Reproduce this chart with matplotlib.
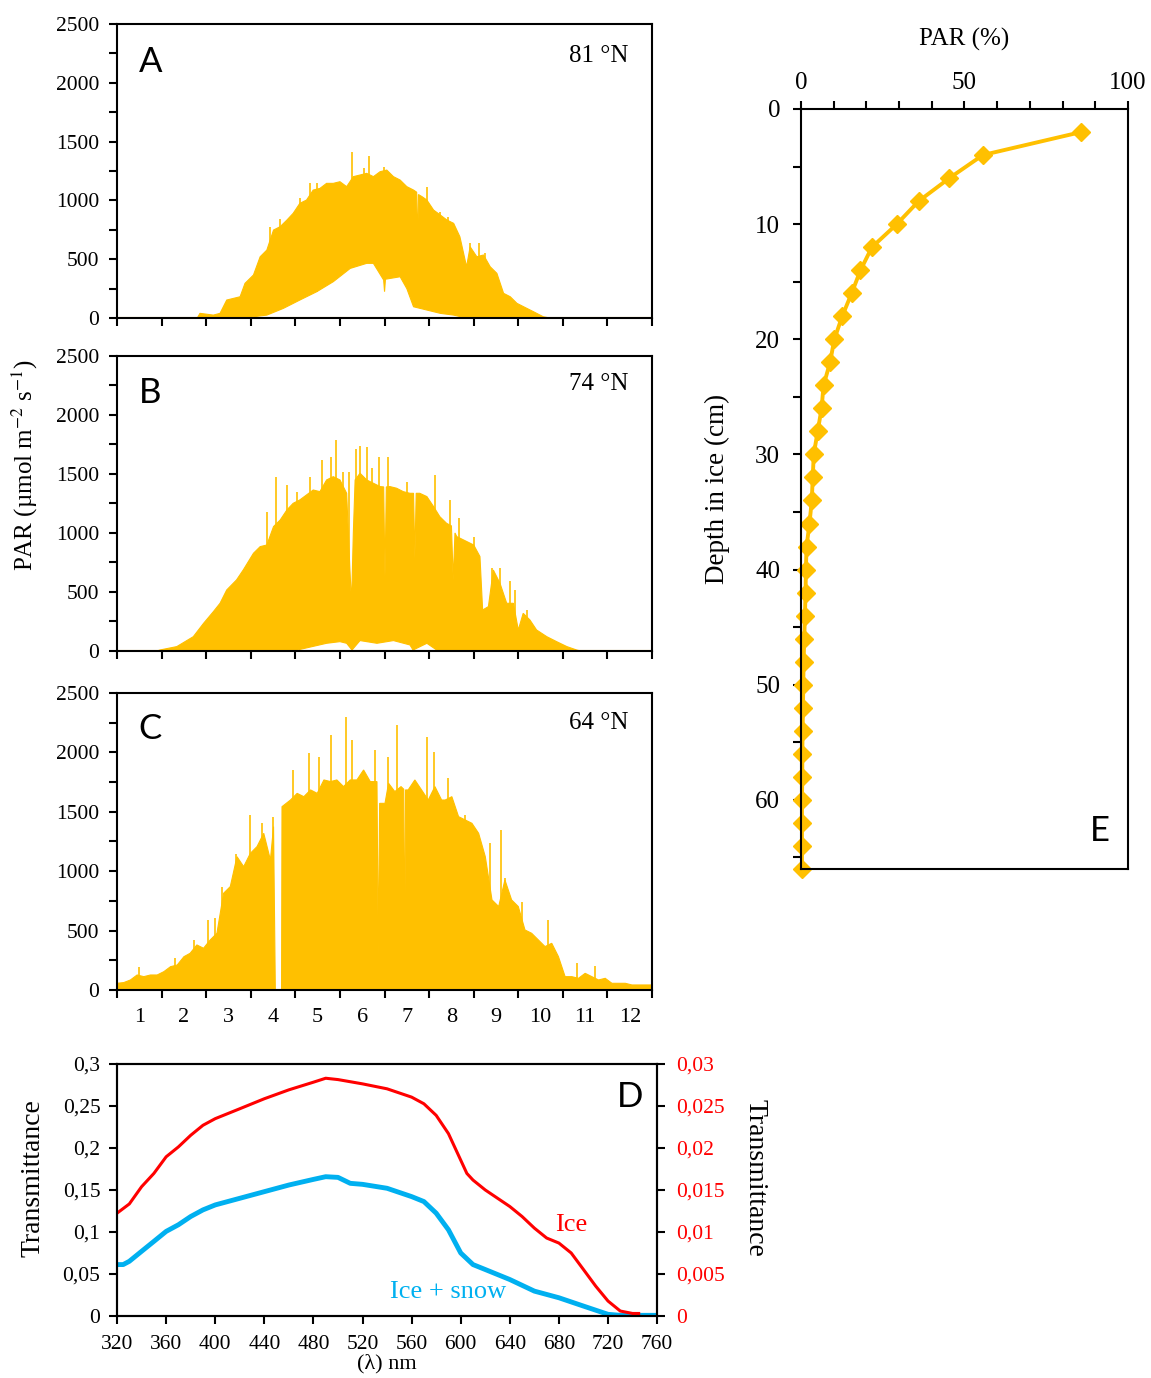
import matplotlib
matplotlib.use("Agg")
import matplotlib.pyplot as plt
import numpy as np

plt.rcParams['font.family'] = ['Liberation Serif', 'DejaVu Serif']
plt.rcParams['mathtext.fontset'] = 'stix'

GOLD = '#FFC000'
RED = '#FF0000'
CYAN = '#00B0F0'

# ---- panel A, 81 N (month of year, PAR) ----
a_peak_x = [0, 1.8, 1.86, 2.16, 2.31, 2.46, 2.76, 2.87, 3.06, 3.21, 3.36, 3.51, 3.66, 3.81, 3.95,
            4.1, 4.25, 4.4, 4.55, 4.7, 4.85, 5.0, 5.15, 5.3, 5.45, 5.6, 5.75, 5.9, 6.05, 6.2,
            6.35, 6.5, 6.65, 6.72, 6.74, 6.76, 6.84, 6.95, 7.1, 7.25, 7.4, 7.55, 7.69, 7.84,
            7.92, 8.07, 8.22, 8.37, 8.52, 8.67, 8.82, 8.97, 9.12, 9.34, 9.56, 9.71, 12]
a_peak_y = [0, 0, 40, 25, 40, 153, 181, 295, 366, 521, 578, 748, 777, 833, 890,
            975, 1003, 1088, 1102, 1145, 1145, 1159, 1117, 1202, 1216, 1230, 1202, 1244, 1258, 1202,
            1173, 1117, 1088, 1070, 578, 1050, 1032, 1003, 918, 876, 833, 805, 691, 436,
            606, 521, 536, 436, 380, 210, 181, 125, 96, 54, 11, 0, 0]
a_night_x = [0, 2.83, 3.36, 3.73, 4.1, 4.48, 4.85, 5.23, 5.6, 5.75, 5.98, 6.0, 6.02, 6.35, 6.5,
             6.65, 6.95, 7.25, 7.55, 7.84, 12]
a_night_y = [0, 0, 25, 82, 153, 224, 309, 422, 465, 465, 323, 224, 330, 351, 250,
             96, 68, 40, 25, 0, 0]
a_spike_x = [3.43, 3.66, 4.1, 4.33, 4.48, 5.27, 5.53, 5.66, 5.98, 6.95, 7.25, 7.43, 7.92, 8.11, 8.26]
a_spike_y = [777, 839, 1017, 1145, 1150, 1414, 1272, 1377, 1287, 1117, 904, 862, 635, 640, 550]

# ---- panel B, 74 N ----
b_peak_x = [0, 0.9, 0.96, 1.34, 1.71, 1.94, 2.16, 2.31, 2.46, 2.68, 2.83, 3.06, 3.21, 3.36, 3.51,
            3.66, 3.81, 3.95, 4.1, 4.25, 4.4, 4.55, 4.7, 4.85, 5.0, 5.15, 5.22, 5.26, 5.3, 5.34,
            5.45, 5.6, 5.75, 5.9, 5.98, 6.01, 6.04, 6.12, 6.27, 6.42, 6.57, 6.65, 6.68, 6.71,
            6.79, 6.95, 7.1, 7.24, 7.39, 7.5, 7.54, 7.58, 7.62, 7.77, 8.0, 8.14, 8.2, 8.33, 8.44,
            8.59, 8.74, 8.89, 9.0, 9.11, 9.26, 9.41, 9.64, 9.86, 10.09, 10.31, 10.4, 12]
b_peak_y = [0, 0, 8, 37, 121, 234, 333, 404, 517, 602, 686, 828, 884, 898, 1054,
            1110, 1195, 1251, 1280, 1322, 1364, 1350, 1449, 1477, 1449, 1336, 715, 404, 1000, 1449,
            1506, 1449, 1421, 1393, 1390, 630, 1390, 1393, 1379, 1350, 1336, 1336, 785, 1336,
            1336, 1308, 1223, 1138, 1082, 1060, 602, 1000, 969, 941, 898, 800, 347, 376, 686,
            573, 404, 404, 178, 319, 263, 178, 121, 79, 37, 8, 0, 0]
b_night_x = [0, 3.95, 4.7, 5.0, 5.15, 5.27, 5.45, 5.83, 6.2, 6.57, 6.64, 6.95, 7.17, 7.47, 12]
b_night_y = [0, 0, 65, 79, 65, 8, 88, 65, 88, 51, 8, 65, 8, 0, 0]
b_spike_x = [3.36, 3.57, 3.81, 4.03, 4.33, 4.59, 4.79, 4.9, 5.06, 5.2, 5.36, 5.45, 5.6, 5.71,
             5.88, 6.08, 6.5, 7.13, 7.47, 7.66, 8.0, 8.41, 8.58, 8.82, 8.92, 9.2]
b_spike_y = [1181, 1472, 1407, 1350, 1477, 1619, 1647, 1788, 1520, 1520, 1709, 1737, 1732, 1548,
             1641, 1641, 1435, 1492, 1280, 1124, 969, 700, 700, 596, 517, 347]

# ---- panel C, 64 N ----
c_peak_x = [0, 0.15, 0.3, 0.45, 0.6, 0.75, 0.9, 1.05, 1.2, 1.35, 1.5, 1.64, 1.79, 1.94, 2.09,
            2.24, 2.39, 2.54, 2.69, 2.84, 2.99, 3.14, 3.29, 3.44, 3.51, 3.55, 3.69, 3.70, 3.89,
            4.04, 4.19, 4.34, 4.49, 4.64, 4.79, 4.93, 5.08, 5.23, 5.38, 5.53, 5.68, 5.83, 5.86,
            5.89, 6.01, 6.09, 6.23, 6.37, 6.43, 6.45, 6.47, 6.53, 6.68, 6.83, 6.98, 7.13, 7.28,
            7.36, 7.51, 7.66, 7.81, 7.96, 8.11, 8.26, 8.41, 8.56, 8.7, 8.85, 9.0, 9.15, 9.3,
            9.45, 9.6, 9.75, 9.9, 10.05, 10.2, 10.35, 10.5, 10.65, 10.8, 10.95, 11.1, 11.25,
            11.4, 11.55, 11.7, 11.92, 12]
c_peak_y = [56, 62, 84, 126, 112, 126, 126, 154, 196, 210, 280, 309, 379, 351, 421,
            477, 814, 870, 1122, 1038, 1150, 1207, 1319, 1094, 1375, 0, 0, 1543, 1599,
            1655, 1627, 1684, 1655, 1768, 1754, 1768, 1712, 1768, 1768, 1852, 1754, 1754, 281,
            1571, 1571, 1740, 1670, 1712, 1690, 112, 1684, 1684, 1768, 1684, 1599, 1712, 1599,
            1599, 1627, 1459, 1431, 1403, 1319, 1122, 758, 702, 926, 758, 702, 505, 477,
            421, 365, 393, 281, 112, 112, 98, 140, 112, 84, 98, 56, 56,
            56, 42, 42, 42, 42]
c_night_x = [0, 12]
c_night_y = [0, 0]
c_spike_x = [0.49, 1.31, 1.72, 2.03, 2.2, 2.36, 2.67, 2.99, 3.25, 3.5, 3.72, 3.95, 4.3, 4.54,
             4.79, 5.13, 5.26, 5.78, 6.07, 6.27, 6.95, 7.12, 7.42, 7.81, 8.37, 8.61, 8.7, 9.08,
             9.66, 10.31, 10.71]
c_spike_y = [196, 267, 421, 589, 603, 870, 1145, 1473, 1409, 1459, 1549, 1852, 1992, 1959,
             2147, 2295, 2105, 2020, 1964, 2231, 2127, 2006, 1782, 1473, 1235, 1347, 940, 744,
             589, 224, 205]

month_labels = ['1', '2', '3', '4', '5', '6', '7', '8', '9', '10', '11', '12']

# ---- panel D, transmittance spectra ----
wl_ice = [320, 330, 340, 350, 360, 370, 380, 390, 400, 420, 440, 460, 480, 490, 500, 520, 540,
          560, 570, 580, 590, 600, 605, 610, 620, 640, 650, 660, 670, 680, 690, 700, 710, 720,
          730, 740, 745]
t_ice = [0.01224, 0.01334, 0.01539, 0.01697, 0.01895, 0.02013, 0.02151, 0.0227, 0.02349,
         0.02467, 0.02586, 0.02692, 0.02783, 0.0283, 0.02814, 0.02763, 0.02704, 0.02605,
         0.02526, 0.02388, 0.02171, 0.01855, 0.01697, 0.01618, 0.015, 0.01303, 0.01184,
         0.01046, 0.00928, 0.00868, 0.0075, 0.00553, 0.00355, 0.00178, 0.00059, 0.0003, 0.0003]
wl_snow = [320, 325, 330, 340, 350, 360, 370, 380, 390, 400, 420, 440, 460, 480, 490, 500, 510,
           520, 540, 560, 570, 580, 590, 600, 610, 620, 640, 660, 680, 700, 720, 730, 760]
t_snow = [0.0612, 0.0612, 0.0651, 0.077, 0.0888, 0.1007, 0.1086, 0.1184, 0.1263, 0.1322,
          0.1401, 0.148, 0.1559, 0.1626, 0.1658, 0.165, 0.1579, 0.1567, 0.152, 0.1421, 0.1362,
          0.1224, 0.1026, 0.075, 0.0612, 0.0553, 0.0434, 0.0296, 0.0217, 0.0118, 0.002,
          0.0008, 0.0008]
left_ticks = [0, 0.05, 0.1, 0.15, 0.2, 0.25, 0.3]
left_labels = ['0', '0,05', '0,1', '0,15', '0,2', '0,25', '0,3']
right_ticks = [0, 0.005, 0.01, 0.015, 0.02, 0.025, 0.03]
right_labels = ['0', '0,005', '0,01', '0,015', '0,02', '0,025', '0,03']

# ---- panel E, PAR profile in ice ----
depth = [2, 4, 6, 8, 10, 12, 14, 16, 18, 20, 22, 24, 26, 28, 30, 32, 34, 36, 38, 40, 42, 44,
         46, 48, 50, 52, 54, 56, 58, 60, 62, 64, 66]
par_pct = [85.7, 55.6, 45.4, 36.0, 29.3, 21.7, 18.2, 15.5, 12.6, 10.2, 8.9, 6.9, 6.3, 5.1, 3.9,
           3.6, 3.3, 2.6, 1.7, 1.5, 1.4, 1.2, 1.0, 0.8, 0.7, 0.6, 0.5, 0.4, 0.4, 0.3, 0.3, 0.3, 0.3]


def style_box(ax):
    for s in ax.spines.values():
        s.set_linewidth(1.5)
        s.set_color('black')


def par_panel(ax, pk_x, pk_y, lo_x, lo_y, sp_x, sp_y, letter, lat, ly, show_labels):
    xs = np.r_[pk_x, lo_x[::-1]]
    ys = np.r_[pk_y, lo_y[::-1]]
    ax.fill(xs, ys, color=GOLD, lw=0.8)
    base = np.interp(sp_x, lo_x, lo_y)
    ax.vlines(sp_x, base, sp_y, color=GOLD, lw=1.2)
    ax.plot([0, 12], [0, 0], color=GOLD, lw=1.5)
    ax.set_xlim(0, 12)
    ax.set_ylim(0, 2500)
    ax.set_yticks(np.arange(0, 2501, 500))
    ax.set_yticks(np.arange(250, 2500, 500), minor=True)
    ax.set_xticks(np.arange(0, 13, 1))
    ax.tick_params(axis='y', which='both', direction='out', length=6, width=1.5,
                   labelsize=15.5, pad=7)
    ax.tick_params(axis='x', which='major', direction='out', length=6, width=1.5)
    if show_labels:
        ax.set_xticks(np.arange(0.5, 12, 1), minor=True)
        ax.set_xticklabels(month_labels, minor=True)
        ax.tick_params(axis='x', which='minor', length=0, labelsize=16, pad=13)
    ax.set_xticklabels([])
    style_box(ax)
    ax.text(0.04, ly[0], letter, transform=ax.transAxes, fontsize=25, family='Lato',
            ha='left', va='center')
    ax.text(0.955, ly[1], lat, transform=ax.transAxes, fontsize=18, ha='right', va='center')


fig = plt.figure(figsize=(11.51, 13.78), dpi=100)

ax_a = fig.add_axes([0.1017, 0.7692, 0.4648, 0.2134])
ax_b = fig.add_axes([0.1017, 0.5276, 0.4648, 0.2141])
ax_c = fig.add_axes([0.1017, 0.2816, 0.4648, 0.2155])

par_panel(ax_a, a_peak_x, a_peak_y, a_night_x, a_night_y, a_spike_x, a_spike_y,
          'A', '81 °N', (0.87, 0.89), False)
par_panel(ax_b, b_peak_x, b_peak_y, b_night_x, b_night_y, b_spike_x, b_spike_y,
          'B', '74 °N', (0.875, 0.905), False)
par_panel(ax_c, c_peak_x, c_peak_y, c_night_x, c_night_y, c_spike_x, c_spike_y,
          'C', '64 °N', (0.88, 0.9), True)

fig.text(0.022, 0.6626, r'PAR (µmol m$^{-2}$ s$^{-1}$)', rotation=90, fontsize=18,
         ha='center', va='center')

# panel D
ax_d = fig.add_axes([0.1017, 0.045, 0.4692, 0.1829])
ax_d2 = ax_d.twinx()
ax_d.plot(wl_snow, t_snow, color=CYAN, lw=3.5)
ax_d2.plot(wl_ice, t_ice, color=RED, lw=2.2)
ax_d.set_xlim(320, 760)
ax_d.set_ylim(0, 0.3)
ax_d2.set_ylim(0, 0.03)
ax_d.set_xticks(np.arange(320, 761, 40))
ax_d.set_yticks(left_ticks)
ax_d.set_yticklabels(left_labels)
ax_d2.set_yticks(right_ticks)
ax_d2.set_yticklabels(right_labels, color=RED)
ax_d.tick_params(direction='out', length=6, width=1.5, labelsize=15.5, pad=6)
ax_d.tick_params(axis='x', pad=8)
ax_d2.tick_params(direction='out', length=6, width=1.5, labelsize=15.5, pad=8)
ax_d.set_xlabel('(λ) nm', fontsize=16, labelpad=0)
ax_d.set_ylabel('Transmittance', fontsize=20)
ax_d.yaxis.set_label_coords(-0.132, 0.548)
ax_d2.set_ylabel('Transmittance', fontsize=20, rotation=270, va='center')
ax_d2.yaxis.set_label_coords(1.181, 0.548)
style_box(ax_d)
style_box(ax_d2)
ax_d.text(0.95, 0.87, 'D', transform=ax_d.transAxes, fontsize=25, family='Lato',
          ha='center', va='center')
ax_d.text(690, 0.108, 'Ice', color=RED, fontsize=19, ha='center', va='center')
ax_d.text(590, 0.028, 'Ice + snow', color=CYAN, fontsize=19, ha='center', va='center')

# panel E
ax_e = fig.add_axes([0.6959, 0.3694, 0.2841, 0.5515])
ax_e.plot(par_pct, depth, color=GOLD, lw=2.8, marker='D', markersize=9, clip_on=False)
ax_e.set_xlim(0, 100)
ax_e.set_ylim(66, 0)
ax_e.xaxis.tick_top()
ax_e.xaxis.set_label_position('top')
ax_e.set_xticks([0, 50, 100])
ax_e.set_xticks(np.arange(10, 100, 10), minor=True)
ax_e.set_yticks(np.arange(0, 61, 10))
ax_e.set_yticks(np.arange(5, 66, 10), minor=True)
ax_e.tick_params(which='both', direction='out', length=6, width=1.5, labelsize=18)
ax_e.tick_params(axis='x', pad=5)
ax_e.tick_params(axis='y', pad=9)
ax_e.set_xlabel('PAR (%)', fontsize=18, labelpad=19)
ax_e.set_ylabel('Depth in ice (cm)', fontsize=19.5, labelpad=18)
style_box(ax_e)
ax_e.text(0.915, 0.05, 'E', transform=ax_e.transAxes, fontsize=25, family='Lato',
          ha='center', va='center')

fig.savefig('out.png', dpi=100)
